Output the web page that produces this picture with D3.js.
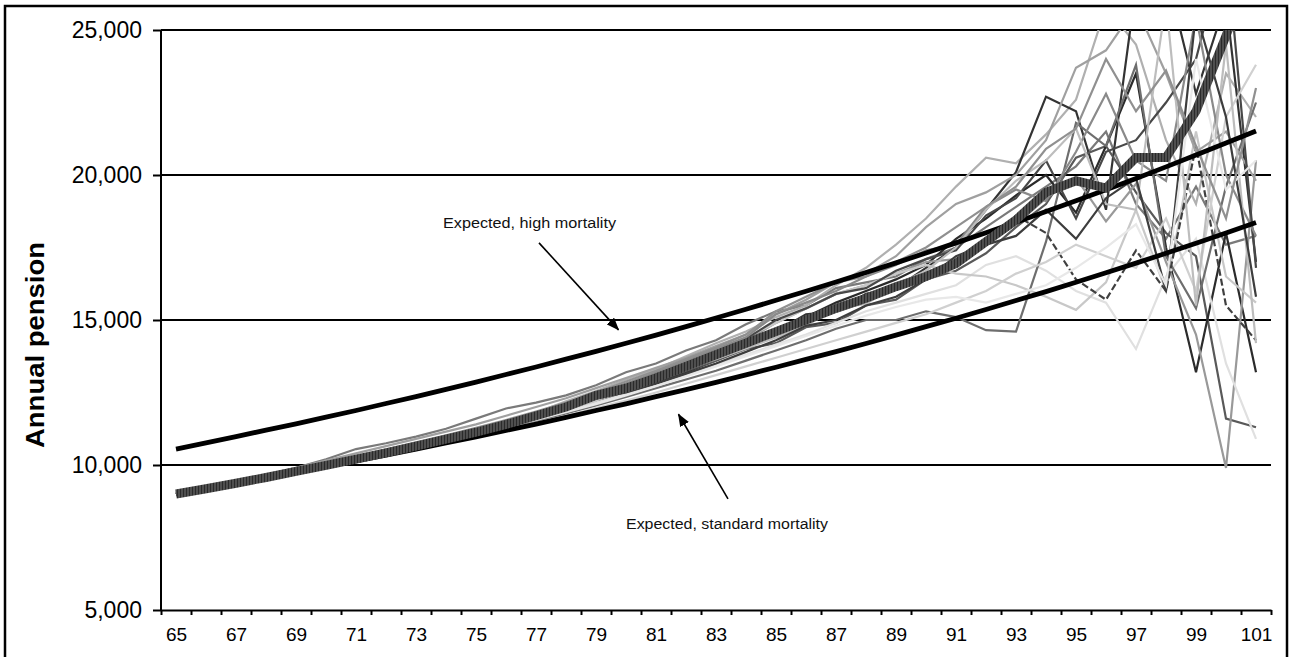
<!DOCTYPE html>
<html>
<head>
<meta charset="utf-8">
<script src="https://cdn.jsdelivr.net/npm/d3@7"></script>
<style>
  body { margin: 0; background: #fff; }
  svg { display: block; }
  text { font-family: "Liberation Sans", Arial, sans-serif; }
</style>
</head>
<body>
<svg id="chart" width="1290" height="657"></svg>
<script>
// ages on the x axis (one category per year)
const ages = [65, 66, 67, 68, 69, 70, 71, 72, 73, 74, 75, 76, 77, 78, 79, 80, 81, 82, 83,
              84, 85, 86, 87, 88, 89, 90, 91, 92, 93, 94, 95, 96, 97, 98, 99, 100, 101];
const ageLabels = [65, 67, 69, 71, 73, 75, 77, 79, 81, 83, 85, 87, 89, 91, 93, 95, 97, 99, 101];

// all pension values below are in thousands
const yTicks = [5, 10, 15, 20, 25];

const expectedHigh = [
  10.55, 10.76, 10.98, 11.2, 11.42, 11.65, 11.88, 12.12, 12.36, 12.61,
  12.86, 13.12, 13.38, 13.65, 13.92, 14.2, 14.48, 14.77, 15.07, 15.37,
  15.68, 15.99, 16.31, 16.64, 16.97, 17.31, 17.66, 18.01, 18.37, 18.74,
  19.11, 19.49, 19.88, 20.28, 20.69, 21.1, 21.52];

const expectedStandard = [
  9.0, 9.18, 9.36, 9.55, 9.74, 9.94, 10.14, 10.34, 10.55, 10.76,
  10.97, 11.19, 11.41, 11.64, 11.88, 12.11, 12.36, 12.6, 12.85, 13.11,
  13.37, 13.64, 13.91, 14.19, 14.48, 14.77, 15.06, 15.36, 15.67, 15.98,
  16.3, 16.63, 16.96, 17.3, 17.65, 18.0, 18.36];

// thick average path
const averagePath = [
  9.0, 9.18, 9.37, 9.57, 9.78, 9.99, 10.2, 10.42, 10.65, 10.89,
  11.13, 11.4, 11.7, 12.0, 12.4, 12.65, 13.0, 13.4, 13.8, 14.2,
  14.6, 15.0, 15.4, 15.75, 16.15, 16.5, 16.95, 17.7, 18.45, 19.4,
  19.8, 19.55, 20.6, 20.6, 22.2, 24.8, 27.5];

// simulated pension paths
const simPaths = [
  [9.0, 9.2, 9.42, 9.66, 9.9, 10.2, 10.55, 10.75, 10.98, 11.25,
   11.6, 11.95, 12.15, 12.4, 12.75, 13.2, 13.5, 13.95, 14.3, 14.85,
   15.3, 15.5, 16.1, 16.3, 16.5, 17.1, 17.5, 18.2, 18.9, 19.6,
   20.3, 21.5, 19.0, 17.8, 19.6, 17.6, 17.9],
  [9.0, 9.17, 9.38, 9.6, 9.8, 10.0, 10.22, 10.46, 10.7, 10.95,
   11.2, 11.45, 11.8, 12.2, 12.55, 12.95, 13.3, 13.75, 14.2, 14.6,
   15.1, 15.5, 16.2, 16.8, 17.6, 18.5, 19.6, 20.6, 20.4, 21.4,
   22.6, 25.8, 24.5, 21.2, 19.0, 23.5, 22.0],
  [9.0, 9.15, 9.33, 9.52, 9.72, 9.93, 10.12, 10.33, 10.55, 10.78,
   11.0, 11.25, 11.52, 11.82, 12.15, 12.48, 12.85, 13.2, 13.6, 14.05,
   14.6, 15.2, 15.3, 15.9, 16.1, 16.8, 17.5, 18.8, 20.1, 22.7,
   22.2, 18.8, 26.5, 27.0, 22.8, 26.0, 17.0],
  [9.0, 9.2, 9.4, 9.6, 9.8, 10.0, 10.2, 10.4, 10.6, 10.85,
   11.1, 11.35, 11.6, 11.9, 12.25, 12.6, 12.9, 13.25, 13.6, 14.0,
   14.2, 14.75, 14.9, 15.5, 15.7, 16.4, 16.7, 17.3, 18.2, 19.0,
   20.6, 21.0, 19.4, 18.0, 17.2, 11.6, 11.3],
  [9.0, 9.16, 9.36, 9.55, 9.76, 9.96, 10.17, 10.4, 10.62, 10.85,
   11.08, 11.32, 11.6, 11.9, 12.25, 12.6, 12.95, 13.35, 13.7, 14.1,
   14.55, 15.1, 15.6, 16.0, 16.4, 16.9, 17.8, 18.5, 19.3, 20.0,
   18.7, 21.0, 23.5, 17.5, 13.2, 18.0, 13.2],
  [9.0, 9.19, 9.39, 9.59, 9.8, 10.02, 10.24, 10.47, 10.7, 10.93,
   11.17, 11.45, 11.72, 12.02, 12.38, 12.7, 13.05, 13.45, 13.85, 14.3,
   14.9, 15.4, 15.9, 16.2, 16.6, 17.0, 17.1, 17.6, 18.3, 19.2,
   19.9, 18.4, 19.7, 17.0, 14.5, 9.9, 20.5],
  [9.0, 9.17, 9.35, 9.55, 9.76, 9.97, 10.18, 10.4, 10.62, 10.85,
   11.08, 11.32, 11.58, 11.86, 12.15, 12.45, 12.75, 13.1, 13.45, 13.8,
   14.15, 14.5, 14.9, 15.3, 15.6, 15.9, 16.2, 16.9, 17.2, 16.7,
   16.0, 15.6, 14.0, 16.5, 17.8, 13.5, 10.9],
  [9.0, 9.18, 9.36, 9.54, 9.74, 9.95, 10.15, 10.36, 10.58, 10.8,
   11.03, 11.27, 11.52, 11.78, 12.05, 12.35, 12.65, 12.95, 13.25, 13.6,
   13.95, 14.3, 14.7, 15.0, 15.0, 15.3, 15.1, 14.65, 14.6, 17.7,
   21.8, 21.0, 23.8, 17.2, 15.4, 19.6, 22.5],
  [9.0, 9.18, 9.37, 9.56, 9.77, 9.98, 10.19, 10.41, 10.63, 10.86,
   11.1, 11.36, 11.63, 11.92, 12.22, 12.75, 13.2, 13.6, 14.0, 14.4,
   14.9, 15.4, 15.9, 16.2, 16.6, 16.9, 16.6, 16.5, 16.2, 15.8,
   15.35, 16.3, 18.8, 16.0, 21.5, 16.5, 15.6],
  [9.0, 9.18, 9.37, 9.57, 9.78, 9.99, 10.2, 10.42, 10.65, 10.89,
   11.13, 11.4, 11.7, 12.0, 12.4, 12.65, 13.0, 13.4, 13.8, 14.2,
   14.6, 15.0, 15.4, 15.75, 16.15, 16.5, 16.95, 17.7, 18.6, 18.0,
   16.4, 15.7, 17.4, 16.0, 21.0, 15.5, 14.3],
  [9.0, 9.22, 9.44, 9.66, 9.9, 10.15, 10.4, 10.65, 10.9, 11.15,
   11.4, 11.7, 12.0, 12.3, 12.65, 13.0, 13.35, 13.7, 14.1, 14.5,
   15.2, 15.7, 16.3, 16.6, 17.2, 18.2, 19.0, 19.4, 20.0, 21.2,
   23.7, 24.3, 25.8, 23.5, 20.8, 21.5, 19.8],
  [9.0, 9.18, 9.38, 9.58, 9.8, 10.02, 10.25, 10.48, 10.72, 10.95,
   11.2, 11.48, 11.78, 12.1, 12.45, 12.8, 13.15, 13.55, 13.95, 14.35,
   15.0, 15.4, 15.9, 16.1, 16.7, 17.1, 17.4, 18.6, 19.2, 20.5,
   18.5, 20.8, 21.2, 22.5, 24.0, 28.0, 16.8],
  [9.0, 9.16, 9.34, 9.52, 9.72, 9.92, 10.12, 10.33, 10.55, 10.77,
   10.99, 11.22, 11.46, 11.7, 11.96, 12.22, 12.5, 12.8, 13.1, 13.4,
   13.7, 14.0, 14.3, 14.6, 14.9, 15.2, 15.6, 16.0, 16.6, 17.0,
   17.6, 17.2, 16.8, 18.5, 16.0, 22.0, 23.8],
  [9.0, 9.19, 9.4, 9.61, 9.83, 10.05, 10.28, 10.5, 10.75, 11.0,
   11.25, 11.52, 11.8, 12.1, 12.45, 12.8, 13.2, 13.6, 14.0, 14.4,
   15.2, 15.6, 16.0, 16.5, 16.9, 17.4, 17.6, 18.9, 19.5, 19.1,
   20.8, 22.8, 20.5, 19.8, 25.5, 20.0, 17.9],
  [9.0, 9.18, 9.37, 9.57, 9.78, 10.0, 10.22, 10.45, 10.68, 10.92,
   11.16, 11.42, 11.7, 11.98, 12.3, 12.62, 12.95, 13.3, 13.65, 14.02,
   14.4, 14.8, 15.4, 15.55, 16.2, 16.7, 17.5, 18.8, 19.8, 20.5,
   21.6, 19.0, 18.8, 26.0, 15.5, 24.5, 14.2],
  [9.0, 9.17, 9.36, 9.56, 9.77, 9.98, 10.19, 10.41, 10.64, 10.88,
   11.12, 11.38, 11.66, 11.96, 12.3, 12.5, 12.8, 13.15, 13.5, 13.9,
   14.3, 14.8, 15.0, 15.5, 15.8, 16.4, 17.2, 17.6, 17.9, 18.8,
   17.8, 19.2, 19.9, 16.0, 25.6, 22.0, 15.8],
  [9.0, 9.18, 9.36, 9.55, 9.75, 9.96, 10.17, 10.38, 10.6, 10.83,
   11.06, 11.3, 11.55, 11.82, 12.1, 12.4, 12.72, 13.05, 13.4, 13.75,
   14.1, 14.45, 14.8, 15.15, 15.45, 15.7, 15.8, 15.6, 15.9, 16.2,
   16.8, 17.5, 18.3, 16.2, 24.0, 19.5, 20.5],
  [9.0, 9.2, 9.41, 9.62, 9.85, 10.08, 10.3, 10.54, 10.78, 11.02,
   11.28, 11.55, 11.84, 12.15, 12.5, 12.88, 13.25, 13.65, 14.05, 14.5,
   15.3, 15.8, 16.3, 16.5, 17.0, 17.5, 18.2, 18.9, 19.6, 20.9,
   21.6, 24.0, 22.2, 23.6, 21.0, 18.5, 23.0]
];
const simColors = ["#7a7a7a", "#b0b0b0", "#333333", "#595959", "#2b2b2b", "#999999",
                   "#e0e0e0", "#6e6e6e", "#c8c8c8", "#404040", "#a0a0a0", "#484848",
                   "#d0d0d0", "#8a8a8a", "#bdbdbd", "#3d3d3d", "#e8e8e8", "#909090"];
const simDashes = [null, null, null, null, null, null, null, null, null, "7,3",
                   null, null, null, null, null, null, null, null];

// annotation anchors in data space (age, thousands)
const notes = [
  {text: "Expected, high mortality", age: 73.9, val: 18.35, len: 173,
   from: [77.1, 17.66], to: [79.75, 14.66]},
  {text: "Expected, standard mortality", age: 80.0, val: 7.97, len: 202,
   from: [83.4, 8.83], to: [81.75, 11.75]}
];

const svg = d3.select("#chart");
const plotLeft = 161, plotRight = 1271, plotTop = 30, plotBottom = 610;

const x = d3.scaleLinear().domain([ages[0] - 0.5, ages[ages.length - 1] + 0.5]).range([plotLeft, plotRight]);
const y = d3.scaleLinear().domain([5, 25]).range([plotBottom, plotTop]);

const defs = svg.append("defs");
defs.append("clipPath").attr("id", "plotClip")
  .append("rect").attr("x", plotLeft).attr("y", plotTop)
  .attr("width", plotRight - plotLeft).attr("height", plotBottom - plotTop);

// hatched fill for the thick average line
const hatch = defs.append("pattern").attr("id", "hatch")
  .attr("patternUnits", "userSpaceOnUse").attr("width", 3).attr("height", 3);
hatch.append("rect").attr("width", 3).attr("height", 3).attr("fill", "#4f4f4f");
hatch.append("rect").attr("width", 1).attr("height", 3).attr("fill", "#2a2a2a");

defs.append("marker").attr("id", "arrow")
  .attr("markerUnits", "userSpaceOnUse")
  .attr("markerWidth", 13).attr("markerHeight", 10)
  .attr("refX", 12).attr("refY", 5).attr("orient", "auto")
  .append("path").attr("d", "M0,0 L13,5 L0,10 Z").attr("fill", "#000");

// outer frame
svg.append("rect").attr("x", 5).attr("y", 6).attr("width", 1282).attr("height", 660)
  .attr("fill", "none").attr("stroke", "#000").attr("stroke-width", 2.5);

// gridlines
svg.append("g").selectAll("line")
  .data(yTicks.filter(d => d > 5))
  .join("line")
  .attr("x1", plotLeft).attr("x2", plotRight)
  .attr("y1", d => y(d)).attr("y2", d => y(d))
  .attr("stroke", "#000").attr("stroke-width", 2);

// y axis
const yAxis = svg.append("g").attr("transform", `translate(${plotLeft},0)`)
  .call(d3.axisLeft(y).tickValues(yTicks).tickSize(8).tickPadding(11)
    .tickFormat(d => d3.format(",")(d * 1000)));
yAxis.selectAll("text").attr("font-size", 23).attr("fill", "#000")
  .attr("font-family", "'Liberation Sans', Arial, sans-serif");
yAxis.selectAll("line, path").attr("stroke", "#000").attr("stroke-width", 2);
yAxis.select(".domain").attr("d", `M0,${plotBottom}V${plotTop}`);

// x axis: tick marks between categories, labels on every other age
const boundaries = ages.map(a => a - 0.5).concat([ages[ages.length - 1] + 0.5]);
const xTicks = svg.append("g").attr("transform", `translate(0,${plotBottom})`)
  .call(d3.axisBottom(x).tickValues(boundaries).tickSize(5).tickSizeOuter(0).tickFormat(""));
xTicks.selectAll("line, path").attr("stroke", "#000").attr("stroke-width", 2);

const xLabels = svg.append("g").attr("transform", `translate(0,${plotBottom})`)
  .call(d3.axisBottom(x).tickValues(ageLabels).tickSize(0).tickPadding(18));
xLabels.select(".domain").remove();
xLabels.selectAll("text").attr("font-size", 19).attr("fill", "#000")
  .attr("font-family", "'Liberation Sans', Arial, sans-serif");

// y axis title
svg.append("text")
  .attr("transform", "translate(44,345) rotate(-90)")
  .attr("text-anchor", "middle")
  .attr("font-size", 25).attr("font-weight", "bold").attr("fill", "#000")
  .attr("textLength", 206).attr("lengthAdjust", "spacingAndGlyphs")
  .text("Annual pension");

const line = d3.line().x((d, i) => x(ages[i])).y(d => y(d));
const plot = svg.append("g").attr("clip-path", "url(#plotClip)");

// simulated paths
plot.selectAll("path.sim")
  .data(simPaths)
  .join("path")
  .attr("class", "sim")
  .attr("d", line)
  .attr("fill", "none")
  .attr("stroke", (d, i) => simColors[i])
  .attr("stroke-width", 2.2)
  .attr("stroke-dasharray", (d, i) => simDashes[i]);

// expected lines
plot.selectAll("path.expected")
  .data([expectedHigh, expectedStandard])
  .join("path")
  .attr("class", "expected")
  .attr("d", line)
  .attr("fill", "none")
  .attr("stroke", "#000")
  .attr("stroke-width", 4.8);

// thick average line
plot.append("path")
  .datum(averagePath)
  .attr("d", line)
  .attr("fill", "none")
  .attr("stroke", "url(#hatch)")
  .attr("stroke-width", 9);

// annotations
notes.forEach(n => {
  svg.append("text")
    .attr("x", x(n.age)).attr("y", y(n.val))
    .attr("dy", "0.35em")
    .attr("font-size", 14).attr("fill", "#111")
    .attr("textLength", n.len).attr("lengthAdjust", "spacingAndGlyphs")
    .text(n.text);
  svg.append("line")
    .attr("x1", x(n.from[0])).attr("y1", y(n.from[1]))
    .attr("x2", x(n.to[0])).attr("y2", y(n.to[1]))
    .attr("stroke", "#000").attr("stroke-width", 1.6)
    .attr("marker-end", "url(#arrow)");
});
</script>
</body>
</html>
